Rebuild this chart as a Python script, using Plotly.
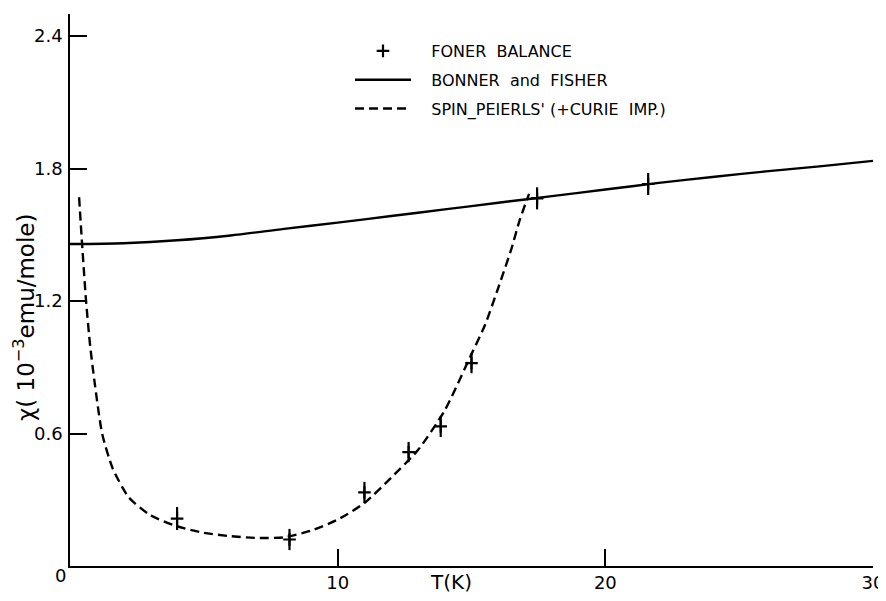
import plotly.graph_objects as go

# Foner balance measurements
T_data = [4.0, 8.2, 11.0, 12.65, 13.85, 15.0, 17.45, 21.6]
chi_data = [0.215, 0.12, 0.333, 0.516, 0.632, 0.919, 1.665, 1.73]
chi_err = [0.052, 0.048, 0.048, 0.046, 0.048, 0.046, 0.05, 0.05]

# Bonner and Fisher curve
T_bf = [0, 2, 4, 6, 8, 10, 12, 14, 16, 18, 20, 22, 24, 26, 28, 30]
chi_bf = [1.458, 1.462, 1.475, 1.497, 1.527, 1.555, 1.585, 1.615, 1.645, 1.675,
          1.705, 1.735, 1.762, 1.787, 1.81, 1.835]

# Spin-Peierls (+ Curie impurity) curve
T_sp = [0.34, 0.45, 0.6, 0.75, 0.9, 1.2, 1.6, 2.2, 3.0, 4.0, 5.0, 6.0, 7.0, 8.0,
        9.0, 10.0, 11.0, 12.0, 13.0, 14.0, 15.0, 15.5, 16.0, 16.5, 16.8, 17.15]
chi_sp = [1.67, 1.46, 1.2, 1.0, 0.85, 0.60, 0.44, 0.31, 0.23, 0.18, 0.15, 0.135,
          0.127, 0.13, 0.16, 0.21, 0.285, 0.40, 0.525, 0.705, 0.96, 1.09, 1.26,
          1.44, 1.567, 1.685]

x_ticks = [10, 20, 30]
y_ticks = [0.6, 1.2, 1.8, 2.4]
y_ticklabels = ["0.6", "1.2", "1.8", "2.4"]

FONT = "DejaVu Sans"
NB = "\u00a0"
PAD = NB * 3

# page body has an 8px margin: figure is sized so it fits the 886x601 window
W, H = 878, 585


def px_x(px):
    return (px - 70) / 803


def px_y(py):
    return (566 - py) / 552


fig = go.Figure()

fig.add_trace(go.Scatter(
    x=T_bf, y=chi_bf, mode="lines", line=dict(color="black", width=2.4, shape="spline", smoothing=0.8),
    name=f"{PAD}BONNER{NB}{NB}and{NB}{NB}FISHER", legendgroup="b", legendrank=2,
))
fig.add_trace(go.Scatter(
    x=T_sp, y=chi_sp, mode="lines",
    line=dict(color="black", width=2.4, dash="9px,5px", shape="spline", smoothing=0.6),
    name=f"{PAD}SPIN_PEIERLS'{NB}(+CURIE{NB}{NB}IMP.)", legendgroup="c", legendrank=3,
))
fig.add_trace(go.Scatter(
    x=T_data, y=chi_data, mode="markers",
    marker=dict(symbol="cross-thin-open", size=9, color="black", line=dict(color="black", width=2.2)),
    error_y=dict(type="data", array=chi_err, visible=True, color="black", thickness=2.2, width=0),
    name=f"{PAD}FONER{NB}{NB}BALANCE", legendgroup="a", legendrank=1,
))

fig.update_layout(
    width=W, height=H,
    margin=dict(l=62, r=13, t=6, b=27),
    paper_bgcolor="white", plot_bgcolor="white",
    font=dict(family=FONT, color="black"),
    showlegend=True,
    legend=dict(
        x=px_x(350), y=px_y(34), xanchor="left", yanchor="top",
        bgcolor="rgba(0,0,0,0)", font=dict(size=16, family=FONT),
        tracegroupgap=5, itemwidth=56,
    ),
)

fig.update_xaxes(
    range=[0, 30], showgrid=False, zeroline=False, automargin=False,
    showline=True, linecolor="black", linewidth=1.6,
    ticks="inside", ticklen=17, tickwidth=1.6, tickcolor="black",
    tickvals=x_ticks, ticktext=[str(v) for v in x_ticks],
    tickfont=dict(size=18, family=FONT), ticklabelstandoff=0,
)
fig.update_yaxes(
    range=[0, 2.5], showgrid=False, zeroline=False, automargin=False,
    showline=True, linecolor="black", linewidth=1.6,
    ticks="inside", ticklen=17, tickwidth=1.6, tickcolor="black",
    tickvals=y_ticks, ticktext=y_ticklabels,
    tickfont=dict(size=18, family=FONT), ticklabelstandoff=2,
)

# origin label, axis titles
fig.add_annotation(text="0", xref="paper", yref="paper", x=px_x(60), y=px_y(575),
                   showarrow=False, font=dict(size=18, family=FONT), xanchor="center", yanchor="middle")
fig.add_annotation(text="T(K)", xref="paper", yref="paper", x=px_x(451), y=px_y(582),
                   showarrow=False, font=dict(size=20, family=FONT), xanchor="center", yanchor="middle")
fig.add_annotation(text="χ( 10<sup>−3</sup>emu/mole)", xref="paper", yref="paper",
                   x=px_x(24), y=px_y(318), textangle=-90,
                   showarrow=False, font=dict(size=23, family=FONT), xanchor="center", yanchor="middle")

fig.write_html("out.html")
